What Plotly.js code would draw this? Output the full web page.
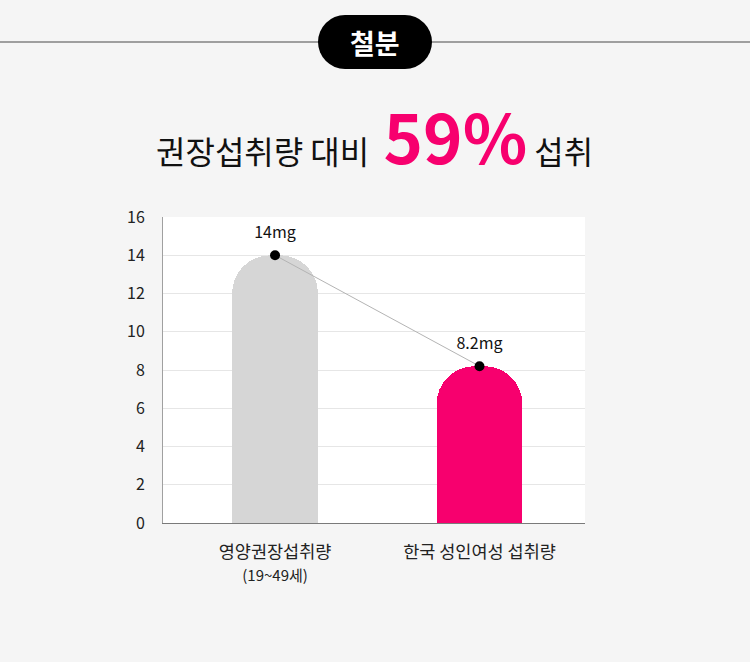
<!DOCTYPE html>
<html>
<head>
<meta charset="utf-8">
<script src="https://cdn.plot.ly/plotly-3.0.1.min.js"></script>
<style>
  html, body { margin:0; padding:0; background:#f5f5f5; }
  #chart { width:750px; height:662px; }
</style>
</head>
<body>
<div id="chart"></div>
<script>
// ---- data ----
var categories = ['영양권장섭취량', '한국 성인여성 섭취량'];
var tickLabels = ['영양권장섭취량<br><span style="font-size:15px">(19~49세)</span>', '한국 성인여성 섭취량'];
var values = [14, 8.2];
var valueLabels = ['14mg', '8.2mg'];
var barColors = ['#d6d6d6', '#f7006e'];
var yTicks = [0, 2, 4, 6, 8, 10, 12, 14, 16];
var badgeText = '철분';
var titleLeft = '권장섭취량 대비';
var titlePct = '59%';
var titleRight = '섭취';

// ---- layout helpers (pixel -> paper) ----
var W = 750, H = 662;
var L = 163, R = 585, T = 217, B = 523;
function px(x) { return (x - L) / (R - L); }
function py(y) { return (B - y) / (B - T); }

var FONT = '"Noto Sans CJK KR", "Noto Sans", sans-serif';

var bars = {
  type: 'bar',
  x: categories,
  y: values,
  width: 0.42,
  marker: { color: barColors, cornerradius: '45%', line: { width: 0 } },
  hoverinfo: 'skip',
  showlegend: false
};

var line = {
  type: 'scatter',
  mode: 'lines+markers',
  x: categories,
  y: values,
  line: { color: '#b4b4b4', width: 1 },
  marker: { color: '#000', size: 10 },
  cliponaxis: false,
  hoverinfo: 'skip',
  showlegend: false
};

var labels = {
  type: 'scatter',
  mode: 'markers+text',
  x: categories,
  y: values,
  text: valueLabels,
  textposition: 'top center',
  textfont: { family: FONT, size: 16, color: '#111' },
  marker: { color: 'rgba(0,0,0,0)', size: 20 },
  cliponaxis: false,
  hoverinfo: 'skip',
  showlegend: false
};

var shapes = [
  { type: 'line', xref: 'paper', yref: 'paper', x0: px(0), x1: px(W), y0: py(42), y1: py(42),
    line: { color: '#4a4a4a', width: 1.2 }, layer: 'above' },
  { type: 'rect', xref: 'paper', yref: 'paper', x0: px(345), x1: px(405), y0: py(69), y1: py(15),
    fillcolor: '#000', line: { width: 0 }, layer: 'above' },
  { type: 'circle', xref: 'paper', yref: 'paper', x0: px(318), x1: px(372), y0: py(69), y1: py(15),
    fillcolor: '#000', line: { width: 0 }, layer: 'above' },
  { type: 'circle', xref: 'paper', yref: 'paper', x0: px(378), x1: px(432), y0: py(69), y1: py(15),
    fillcolor: '#000', line: { width: 0 }, layer: 'above' }
];

var annotations = [
  { xref: 'paper', yref: 'paper', x: px(375), y: py(42), text: '<b>' + badgeText + '</b>',
    showarrow: false, font: { family: FONT, size: 27, color: '#fff' }, xanchor: 'center', yanchor: 'middle' },
  { xref: 'paper', yref: 'paper', x: px(374), y: py(134),
    text: titleLeft + '  <span style="font-size:67px;color:#f7006e"><b>' + titlePct + '</b></span> ' + titleRight,
    showarrow: false, font: { family: FONT, size: 32, color: '#111' }, xanchor: 'center', yanchor: 'middle' }
];

var layout = {
  width: W, height: H,
  margin: { l: L, r: W - R, t: T, b: H - B, pad: 0 },
  paper_bgcolor: '#f5f5f5',
  plot_bgcolor: '#ffffff',
  font: { family: FONT, color: '#222' },
  bargap: 0,
  xaxis: {
    type: 'category',
    range: [-0.548, 1.516],
    tickvals: categories,
    ticktext: tickLabels,
    ticks: '',
    ticklabelstandoff: 13,
    tickfont: { family: FONT, size: 17.5, color: '#222' },
    showgrid: false,
    zeroline: false,
    showline: true,
    linecolor: '#7a7a7a',
    linewidth: 1,
    fixedrange: true
  },
  yaxis: {
    range: [0, 16],
    tickvals: yTicks,
    ticks: '',
    ticklabelstandoff: 14,
    tickfont: { family: FONT, size: 16, color: '#222' },
    showgrid: true,
    gridcolor: '#e6e6e6',
    gridwidth: 1,
    zeroline: false,
    showline: true,
    linecolor: '#a0a0a0',
    linewidth: 1,
    fixedrange: true
  },
  shapes: shapes,
  annotations: annotations
};

Plotly.newPlot('chart', [bars, line, labels], layout, { displayModeBar: false, staticPlot: true });
</script>
</body>
</html>
